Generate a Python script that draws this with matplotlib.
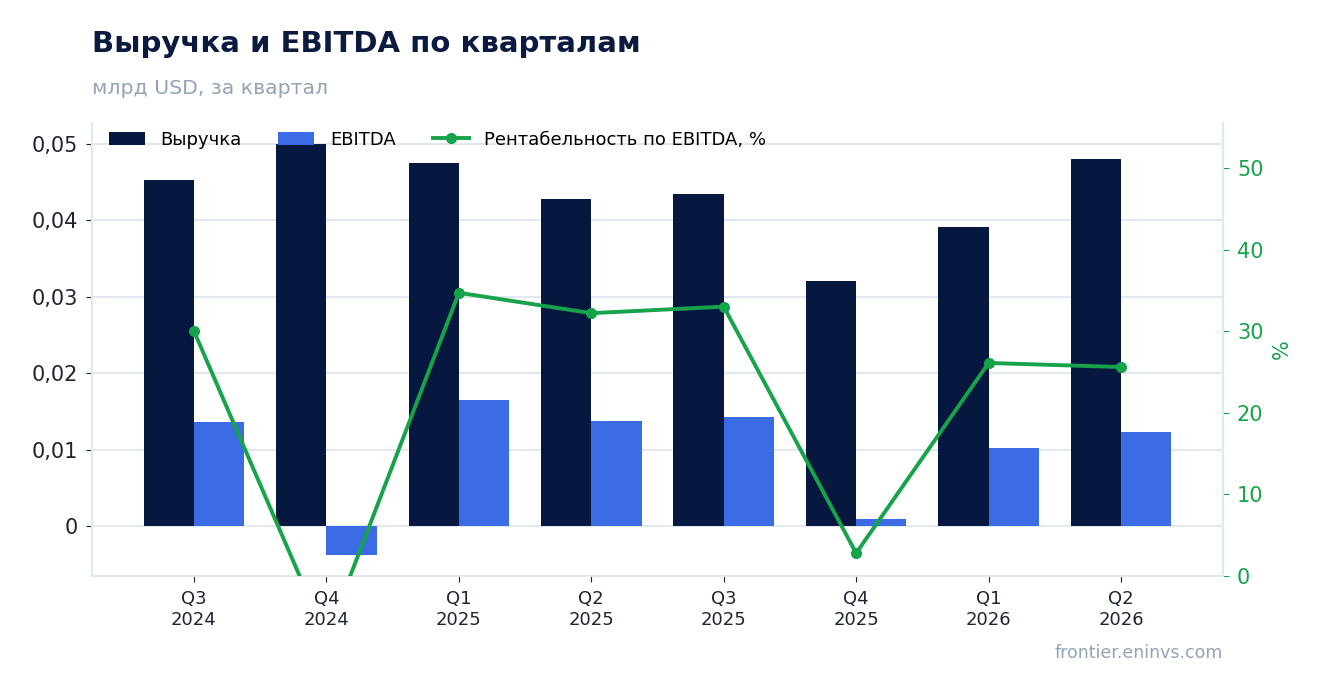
import matplotlib
matplotlib.use("Agg")
import matplotlib.pyplot as plt
from matplotlib.ticker import FuncFormatter
import numpy as np

quarters = ["Q3\n2024", "Q4\n2024", "Q1\n2025", "Q2\n2025",
            "Q3\n2025", "Q4\n2025", "Q1\n2026", "Q2\n2026"]
revenue = [0.0453, 0.0500, 0.0475, 0.0428, 0.0435, 0.0321, 0.0391, 0.0480]
ebitda = [0.0136, -0.0038, 0.0165, 0.0137, 0.0143, 0.0009, 0.0102, 0.0123]
margin = [30.0, -7.6, 34.7, 32.2, 33.0, 2.8, 26.1, 25.6]

NAVY = "#061740"
BLUE = "#3b6ce6"
GREEN = "#16a34a"
GRID = "#e2e8f0"
MUTED = "#94a3b8"
TEXT = "#1e2433"

plt.rcParams['font.family'] = ['DejaVu Sans']

fig = plt.figure(figsize=(13.22, 6.93), dpi=100)
fig.subplots_adjust(left=92/1322, right=1223/1322, top=1-123/693, bottom=1-576/693)
ax = fig.add_subplot(111)

x = np.arange(len(quarters))
w = 0.38
ax.bar(x - w/2, revenue, w, color=NAVY, label="Выручка", zorder=2)
ax.bar(x + w/2, ebitda, w, color=BLUE, label="EBITDA", zorder=2)

ax.set_xlim(-0.77, len(quarters) - 1 + 0.77)
ax.set_ylim(-0.00654, 0.05275)
ax.set_yticks([0, 0.01, 0.02, 0.03, 0.04, 0.05])
ax.yaxis.set_major_formatter(FuncFormatter(lambda v, p: "0" if abs(v) < 1e-9 else f"{v:.2f}".replace(".", ",")))
ax.set_xticks(x)
ax.set_xticklabels(quarters, fontsize=13, color=TEXT, linespacing=1.2)
ax.tick_params(axis='y', labelsize=15, labelcolor=TEXT, color=TEXT, length=4, pad=6)
ax.tick_params(axis='x', color=TEXT, length=4, pad=6)
ax.grid(axis='y', color=GRID, linewidth=1.5, zorder=0)
ax.set_axisbelow(True)
ax.spines["top"].set_visible(False)
for s in ["left", "bottom", "right"]:
    ax.spines[s].set_color(GRID)
    ax.spines[s].set_linewidth(1.5)

ax2 = ax.twinx()
ax2.plot(x, margin, color=GREEN, linewidth=2.8, marker="o", markersize=7,
         label="Рентабельность по EBITDA, %", zorder=3)
ax2.set_ylim(0, 55.5)
ax2.set_yticks([0, 10, 20, 30, 40, 50])
ax2.tick_params(axis='y', labelsize=15, labelcolor=GREEN, color=GREEN, length=4, pad=6)
ax2.set_ylabel("%", color=GREEN, fontsize=15, labelpad=6)
for s in ["top", "left", "bottom"]:
    ax2.spines[s].set_visible(False)
ax2.spines["right"].set_color(GRID)
ax2.spines["right"].set_linewidth(1.5)

h1, l1 = ax.get_legend_handles_labels()
h2, l2 = ax2.get_legend_handles_labels()
ax2.legend(h1 + h2, l1 + l2, loc="upper left", bbox_to_anchor=(0.0035, 1.011), ncol=3,
           frameon=False, fontsize=13, handlelength=2.0, handletextpad=0.85,
           columnspacing=2.05, borderaxespad=0.3)

fig.text(92/1322, 1-44/693, "Выручка и EBITDA по кварталам", fontsize=21,
         fontweight="bold", color="#0b1a3f", ha="left", va="center")
fig.text(92/1322, 1-88/693, "млрд USD, за квартал", fontsize=14.7,
         color=MUTED, ha="left", va="center")
fig.text(1223/1322, 1-653/693, "frontier.eninvs.com", fontsize=12.5,
         color=MUTED, ha="right", va="center")

fig.savefig("out.png", dpi=100)
